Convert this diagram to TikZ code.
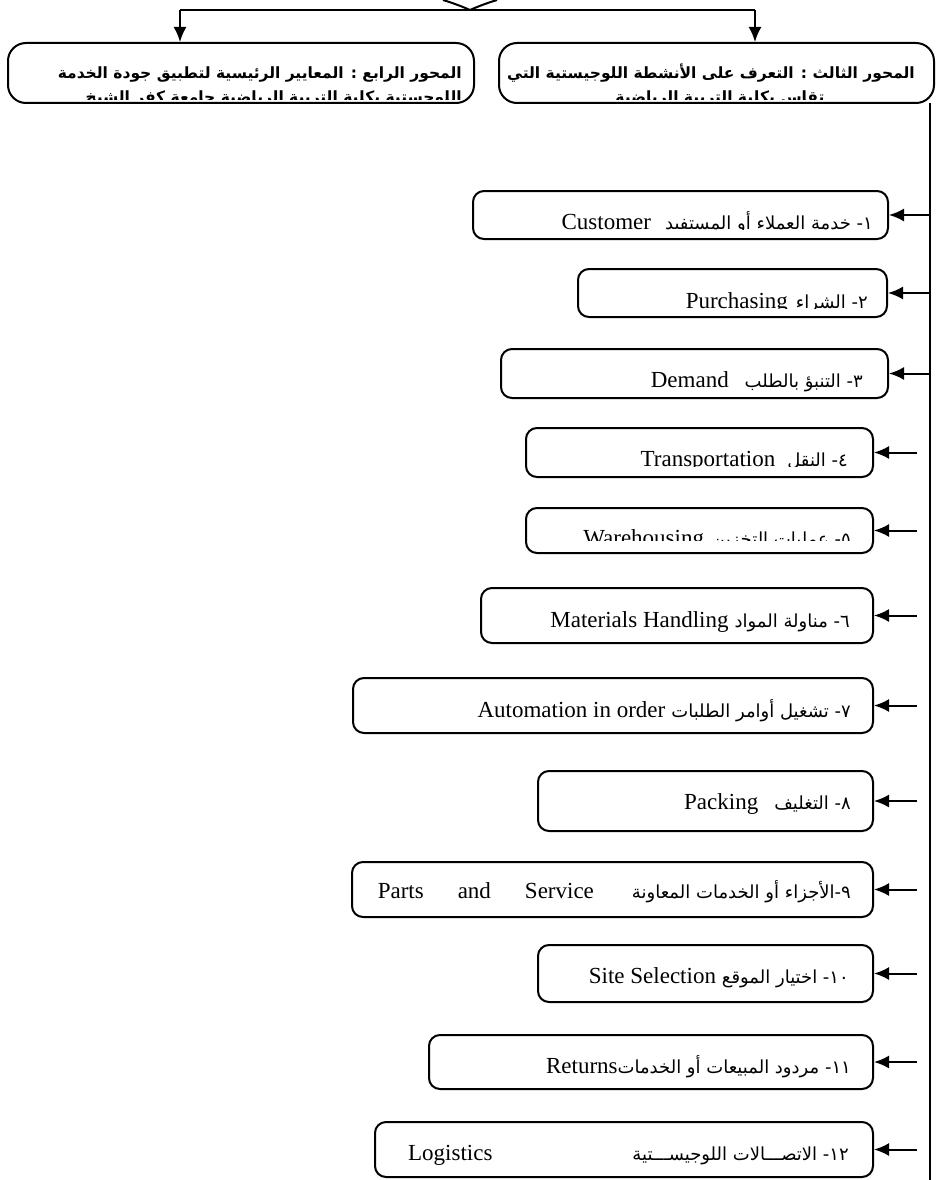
\documentclass[tikz,border=0pt]{standalone}
\usepackage{fontspec}
\setmainfont{Liberation Serif}
\newfontfamily\arabicfont[Script=Arabic]{DejaVu Sans}
\TeXXeTstate=1
\usetikzlibrary{arrows.meta,fit}
\newcommand\artxt[1]{{\fontsize{18}{22}\selectfont\arabicfont #1}}
\newcommand\latxt[1]{\beginL #1\endL}
\newcommand\itemrow[9]{%
  \node[itembox,fit={(#2,#3) (#4,#5)}] (#1) {};
  \begin{scope}
    \clip (#2,#3) rectangle (#4,#7);
    \node[itemtext,anchor=base east] (#1t) at (#8,#6) {#9};
  \end{scope}}
\begin{document}
\begin{tikzpicture}[x=1pt,y=-1pt,
  line/.style={line width=2pt},
  conn/.style={line width=2pt,-{Latex[length=15pt,width=13pt]}},
  itembox/.style={draw,line width=2pt,rounded corners=11pt,inner sep=0pt},
  axbox/.style={draw,line width=2pt,rounded corners=18pt,inner sep=0pt},
  itemtext/.style={inner sep=0pt,font=\fontsize{23}{27}\selectfont},
  axtext/.style={inner sep=0pt,font=\fontsize{15.5}{19}\selectfont\bfseries\arabicfont},
]
\useasboundingbox (0,0) rectangle (936,1180);
\fill[white] (0,0) rectangle (936,1180);

% top fragment and hub
\draw[line] (443,0) .. controls (456,4) and (463,7) .. (470,10) .. controls (477,7) and (484,4) .. (497,0);
\coordinate (hubL) at (180,10);
\coordinate (hubR) at (755,10);
\draw[line] (hubL) -- (hubR);

% axis boxes
\node[axbox,fit={(8,43) (474,103)}] (ax4) {};
\node[axbox,fit={(499,43) (934,103)}] (ax3) {};
\draw[conn] (hubL) -- (hubL |- ax4.north);
\draw[conn] (hubR) -- (hubR |- ax3.north);

\begin{scope}
  \clip (8,43) rectangle (474,100);
  \node[axtext,anchor=base east] (ax4a) at (462,79) {\beginR المحور الرابع : المعايير الرئيسية لتطبيق جودة الخدمة\endR};
  \node[axtext,anchor=base east] (ax4b) at (462,103) {\beginR اللوجستية بكلية التربية الرياضية جامعة كفر الشيخ\endR};
\end{scope}
\begin{scope}
  \clip (499,43) rectangle (934,100);
  \node[axtext,anchor=base east] (ax3a) at (915,79) {\beginR المحور الثالث : التعرف على الأنشطة اللوجيستية التي\endR};
  \node[axtext,anchor=base] (ax3b) at (720,103) {\beginR تقاس بكلية التربية الرياضية\endR};
\end{scope}

% trunk
\coordinate (trunkTop) at (930,103);
\coordinate (trunkBot) at (930,1180);
\draw[line] (trunkTop) -- (trunkBot);

% items
\itemrow{b1}{473}{191}{888}{239}{229}{229}{873}{\beginR\artxt{١- خدمة العملاء أو المستفيد}\hspace{14pt}\latxt{Customer}\endR}
\itemrow{b2}{578}{269}{887}{317}{308}{308}{868}{\beginR\artxt{٢- الشراء}\hspace{8pt}\latxt{Purchasing}\endR}
\itemrow{b3}{501}{349}{888}{398}{387}{393}{863}{\beginR\artxt{٣- التنبؤ بالطلب}\hspace{16pt}\latxt{Demand}\endR}
\itemrow{b4}{526}{428}{873}{477}{466}{466}{848}{\beginR\artxt{٤- النقل}\hspace{12pt}\latxt{Transportation}\endR}
\itemrow{b5}{526}{508}{873}{553}{545}{540}{851}{\beginR\artxt{٥- عمليات التخزين}\hspace{8pt}\latxt{Warehousing}\endR}
\itemrow{b6}{481}{588}{873}{643}{627}{638}{850}{\beginR\artxt{٦- مناولة المواد}\hspace{6pt}\latxt{Materials Handling}\endR}
\itemrow{b7}{353}{678}{873}{733}{717}{728}{851}{\beginR\artxt{٧- تشغيل أوامر الطلبات}\hspace{6pt}\latxt{Automation in order}\endR}
\itemrow{b8}{538}{771}{873}{831}{809}{826}{851}{\beginR\artxt{٨- التغليف}\hspace{16pt}\latxt{Packing}\endR}
\itemrow{b9}{352}{862}{873}{917}{898}{912}{851}{\beginR\artxt{٩-الأجزاء أو الخدمات المعاونة}\hspace{38pt}\latxt{Parts\hspace{34pt}and\hspace{34pt}Service}\endR}
\itemrow{b10}{538}{945}{873}{1002}{983}{997}{849}{\beginR\artxt{١٠- اختيار الموقع}\hspace{6pt}\latxt{Site Selection}\endR}
\itemrow{b11}{429}{1035}{873}{1089}{1073}{1084}{851}{\beginR\artxt{١١- مردود المبيعات أو الخدمات}\latxt{Returns}\endR}
\itemrow{b12}{375}{1122}{873}{1177}{1160}{1175}{849}{\beginR\artxt{١٢- الاتصـــالات اللوجيســـتية}\hspace{140pt}\latxt{Logistics}\endR}

% connectors from trunk
\foreach \b in {b1,b2,b3}{
  \draw[conn] (trunkTop |- \b.east) -- (\b.east);
}
\foreach \b in {b4,b5,b6,b7,b8,b9,b10,b11,b12}{
  \coordinate (s\b) at ([xshift=43pt]\b.east);
  \draw[conn] (s\b) -- (\b.east);
}
\end{tikzpicture}
\end{document}
